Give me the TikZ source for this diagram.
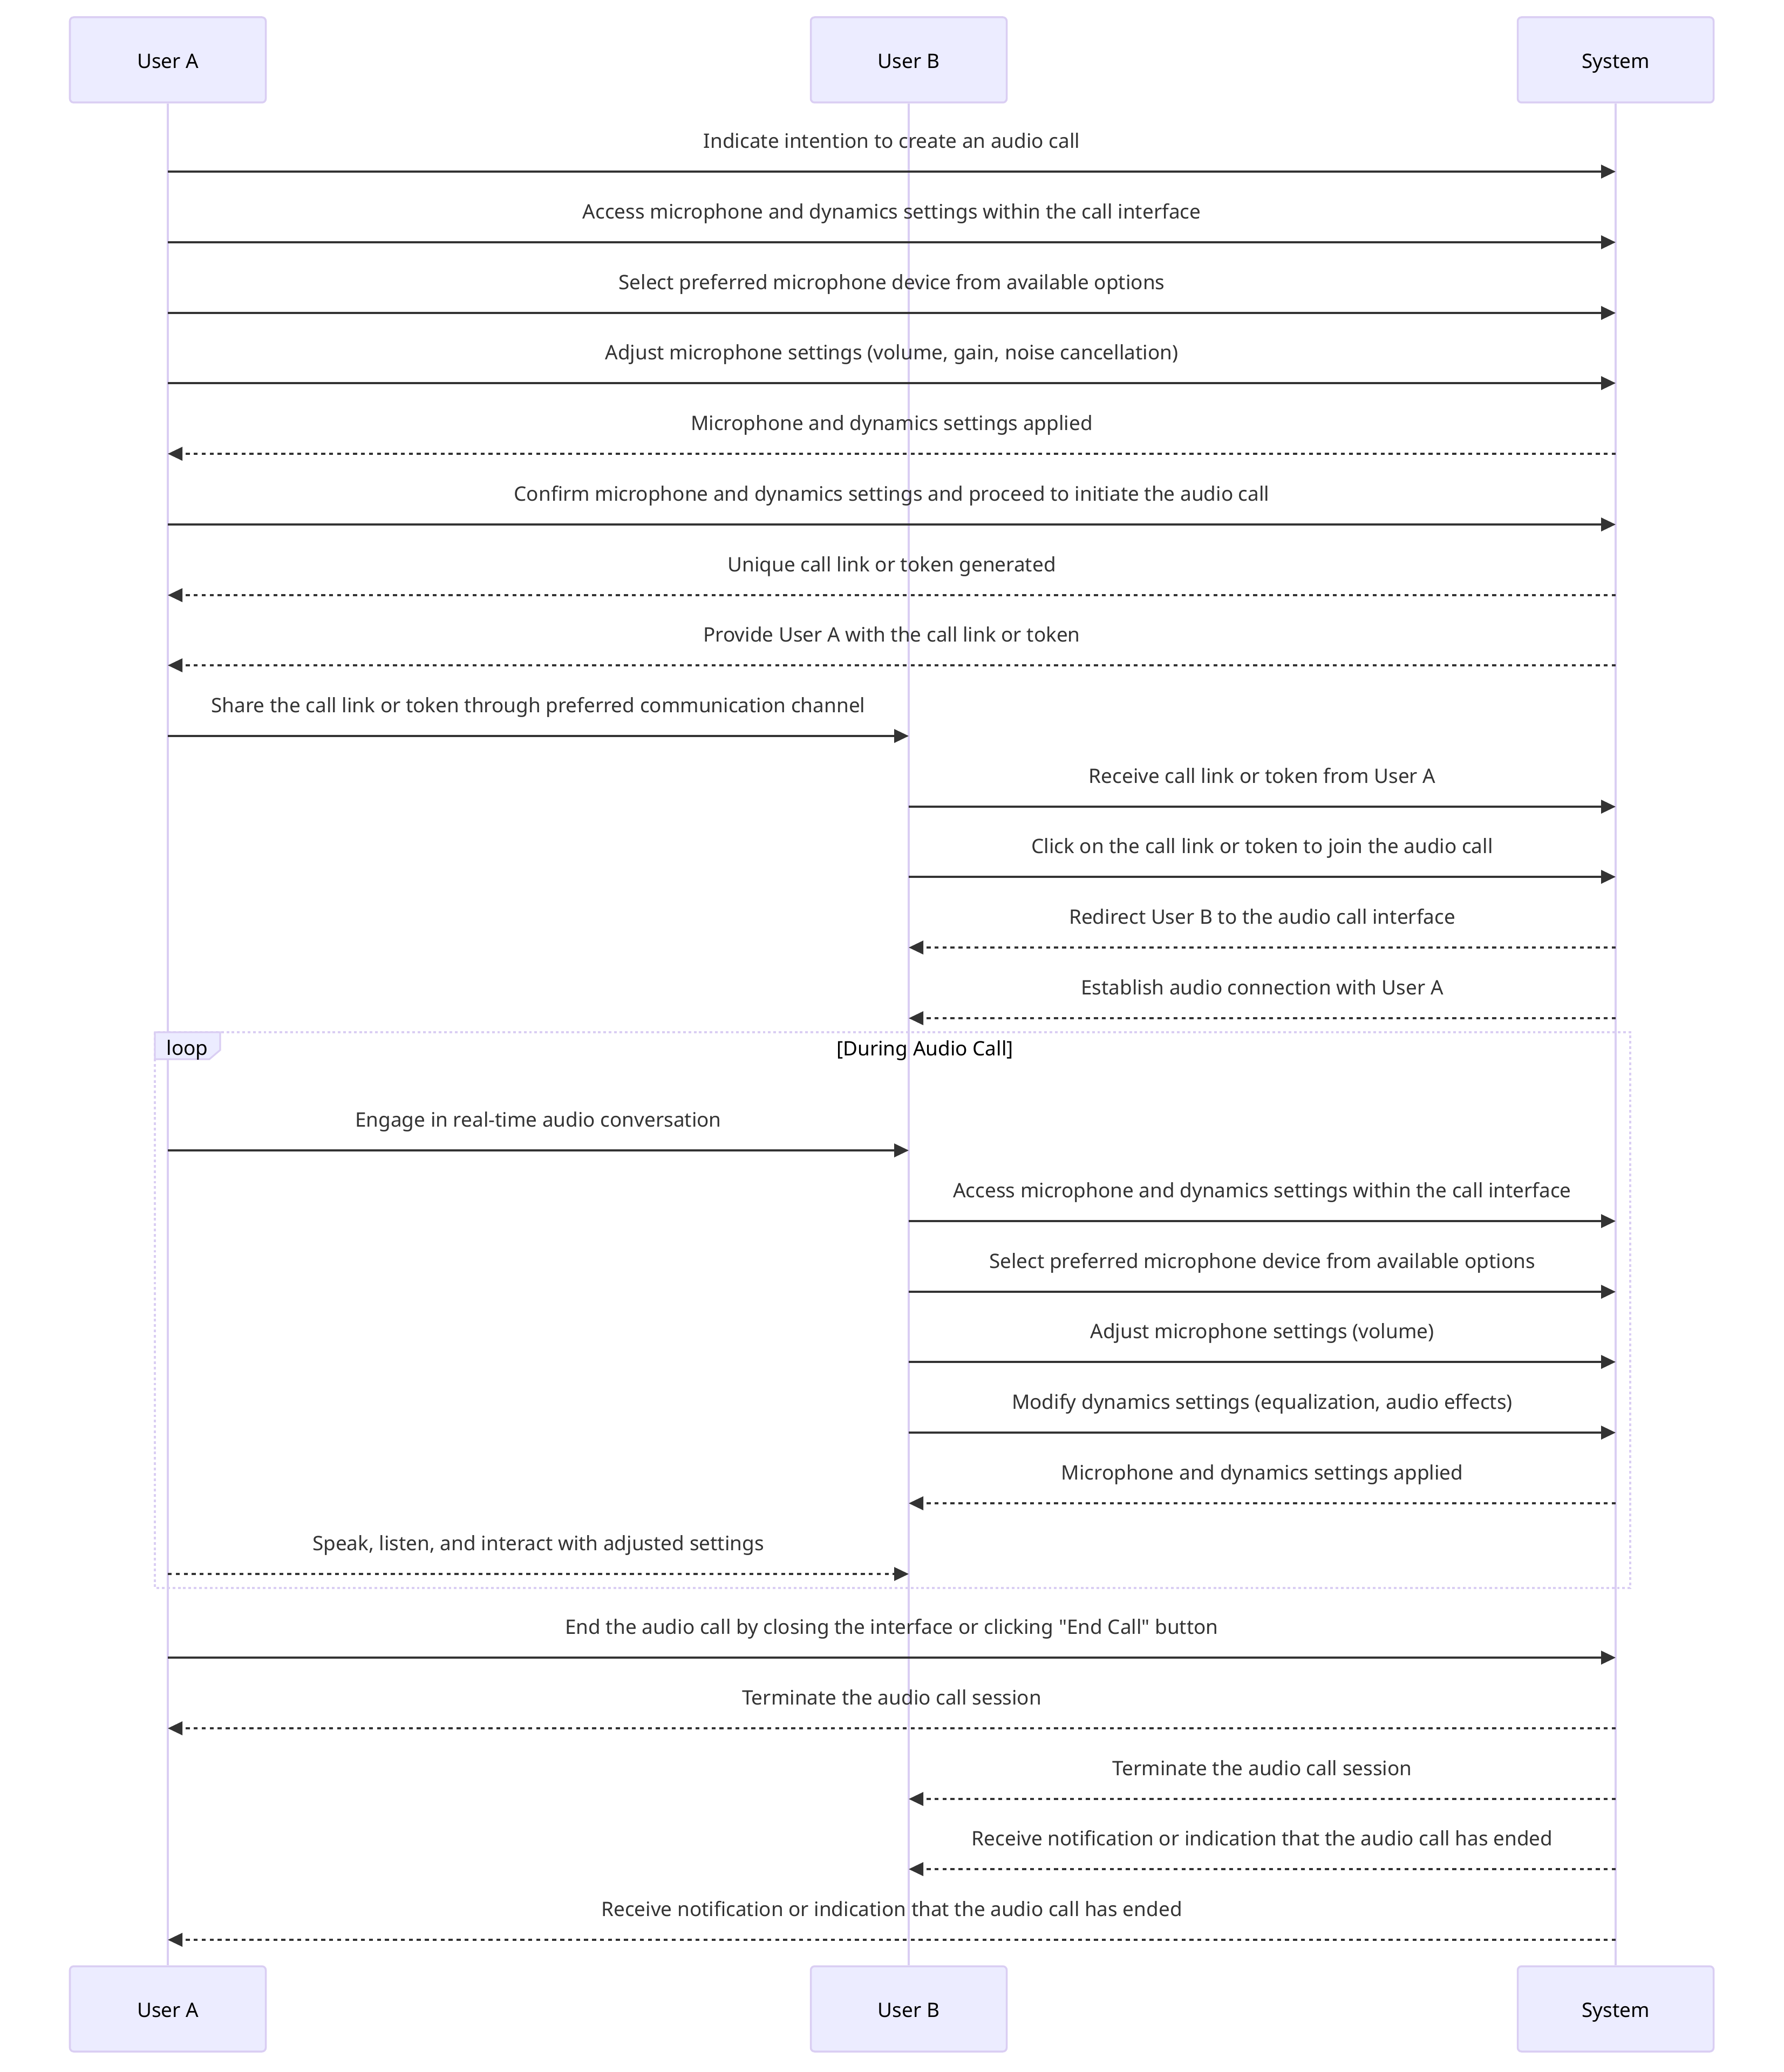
\documentclass[tikz,border=0pt]{standalone}
\usepackage{fontspec}
\setmainfont{Noto Sans}
\usetikzlibrary{arrows.meta,positioning}
\definecolor{actorfill}{HTML}{ECECFF}
\definecolor{actorline}{HTML}{DACEF3}
\definecolor{msgline}{HTML}{333333}

\begin{document}
\begin{tikzpicture}[node distance=13.73cm,font=\fontsize{10.5}{12.5}\selectfont]
	\tikzstyle{actor}=[draw=actorline,fill=actorfill,line width=1pt,rounded corners=2pt,minimum width=3.63cm,minimum height=1.58cm,text=black,text height=0.95em,text depth=0.08em]
	\tikzstyle{life}=[draw=actorline,line width=1.2pt]
	\tikzstyle{call}=[draw=msgline,line width=0.95pt,-{Triangle[length=0.27cm,width=0.25cm]}]
	\tikzstyle{reply}=[call,dash pattern=on 2.1pt off 2.1pt]
	\tikzstyle{msg}=[midway,yshift=0.53cm,text=msgline,text height=0.75em,text depth=0.22em]
	\tikzstyle{loopline}=[draw=actorline,line width=0.9pt,dash pattern=on 1.4pt off 1.4pt]
	
	\useasboundingbox (0,0) rectangle (33.05,-38.40);
	
	\node[actor] (A) at (3.11,-1.11) {User A};
	\node[actor] (B) [right of=A] {User B};
	\node[actor] (S) [right of=B,node distance=13.10cm] {System};
	\node[actor] (Ab) [below of=A,node distance=36.12cm] {User A};
	\node[actor] (Bb) [below of=B,node distance=36.12cm] {User B};
	\node[actor] (Sb) [below of=S,node distance=36.12cm] {System};
	
	\draw[life] (A) -- (Ab) (B) -- (Bb) (S) -- (Sb);
	
	% loop frame
	\draw[loopline] (2.87,-19.13) rectangle (30.21,-29.43);
	\draw[draw=actorline,fill=actorfill,line width=0.9pt] (2.87,-19.13) -- (4.08,-19.13) -- (4.08,-19.46) -- (3.88,-19.63) -- (2.87,-19.63) -- cycle;
	\node (looplbl) at (3.47,-19.46) {loop};
	\node (loopcond) at (17.14,-19.47) {[During Audio Call]};
	
	% message rows
	\path (0,-3.18) coordinate (r1) (0,-4.49) coordinate (r2) (0,-5.80) coordinate (r3)
	(0,-7.10) coordinate (r4) (0,-8.41) coordinate (r5) (0,-9.72) coordinate (r6)
	(0,-11.03) coordinate (r7) (0,-12.33) coordinate (r8) (0,-13.64) coordinate (r9)
	(0,-14.95) coordinate (r10) (0,-16.25) coordinate (r11) (0,-17.56) coordinate (r12)
	(0,-18.87) coordinate (r13) (0,-21.32) coordinate (r14) (0,-22.63) coordinate (r15)
	(0,-23.94) coordinate (r16) (0,-25.24) coordinate (r17) (0,-26.55) coordinate (r18)
	(0,-27.86) coordinate (r19) (0,-29.17) coordinate (r20) (0,-30.72) coordinate (r21)
	(0,-32.03) coordinate (r22) (0,-33.34) coordinate (r23) (0,-34.64) coordinate (r24)
	(0,-35.95) coordinate (r25);
	
	\draw[call] (A|-r1) -- node[msg] {Indicate intention to create an audio call} (S|-r1);
	\draw[call] (A|-r2) -- node[msg] {Access microphone and dynamics settings within the call interface} (S|-r2);
	\draw[call] (A|-r3) -- node[msg] {Select preferred microphone device from available options} (S|-r3);
	\draw[call] (A|-r4) -- node[msg] {Adjust microphone settings (volume, gain, noise cancellation)} (S|-r4);
	\draw[reply] (S|-r5) -- node[msg] {Microphone and dynamics settings applied} (A|-r5);
	\draw[call] (A|-r6) -- node[msg] {Confirm microphone and dynamics settings and proceed to initiate the audio call} (S|-r6);
	\draw[reply] (S|-r7) -- node[msg] {Unique call link or token generated} (A|-r7);
	\draw[reply] (S|-r8) -- node[msg] {Provide User A with the call link or token} (A|-r8);
	\draw[call] (A|-r9) -- node[msg] {Share the call link or token through preferred communication channel} (B|-r9);
	\draw[call] (B|-r10) -- node[msg] {Receive call link or token from User A} (S|-r10);
	\draw[call] (B|-r11) -- node[msg] {Click on the call link or token to join the audio call} (S|-r11);
	\draw[reply] (S|-r12) -- node[msg] {Redirect User B to the audio call interface} (B|-r12);
	\draw[reply] (S|-r13) -- node[msg] {Establish audio connection with User A} (B|-r13);
	\draw[call] (A|-r14) -- node[msg] {Engage in real-time audio conversation} (B|-r14);
	\draw[call] (B|-r15) -- node[msg] {Access microphone and dynamics settings within the call interface} (S|-r15);
	\draw[call] (B|-r16) -- node[msg] {Select preferred microphone device from available options} (S|-r16);
	\draw[call] (B|-r17) -- node[msg] {Adjust microphone settings (volume)} (S|-r17);
	\draw[call] (B|-r18) -- node[msg] {Modify dynamics settings (equalization, audio effects)} (S|-r18);
	\draw[reply] (S|-r19) -- node[msg] {Microphone and dynamics settings applied} (B|-r19);
	\draw[reply] (A|-r20) -- node[msg] {Speak, listen, and interact with adjusted settings} (B|-r20);
	\draw[call] (A|-r21) -- node[msg] {End the audio call by closing the interface or clicking \textquotedbl End Call\textquotedbl{} button} (S|-r21);
	\draw[reply] (S|-r22) -- node[msg] {Terminate the audio call session} (A|-r22);
	\draw[reply] (S|-r23) -- node[msg] {Terminate the audio call session} (B|-r23);
	\draw[reply] (S|-r24) -- node[msg] {Receive notification or indication that the audio call has ended} (B|-r24);
	\draw[reply] (S|-r25) -- node[msg] {Receive notification or indication that the audio call has ended} (A|-r25);
\end{tikzpicture}
\end{document}
